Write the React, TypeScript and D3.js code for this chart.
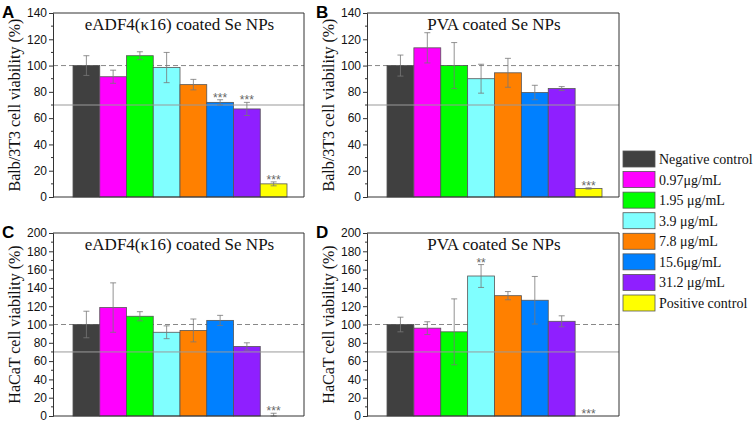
import React, { useEffect, useRef } from "react";
import * as d3 from "d3";

const categories = [
  "Negative control",
  "0.97μg/mL",
  "1.95 μg/mL",
  "3.9 μg/mL",
  "7.8 μg/mL",
  "15.6μg/mL",
  "31.2 μg/mL",
  "Positive control",
];
const colors = ["#404040", "#ff00ff", "#00ff00", "#80ffff", "#ff8000", "#0080ff", "#8f1fff", "#ffff00"];

const valuesA = [100, 91.5, 107.5, 98.5, 85.5, 72, 67, 10];
const errorsA = [7.5, 5, 3, 11.5, 4, 2, 5, 1.5];
const starsA = ["", "", "", "", "", "***", "***", "***"];

const valuesB = [100, 113.5, 100, 90, 94.5, 79.5, 82.5, 6.5];
const errorsB = [8, 11.5, 17.5, 11, 11, 5.5, 1.5, 0.5];
const starsB = ["", "", "", "", "", "", "", "***"];

const valuesC = [100, 118.5, 109, 91.5, 93.5, 104.5, 76, 0];
const errorsC = [14.5, 27, 5, 7, 12.5, 5.5, 4, 3];
const starsC = ["", "", "", "", "", "", "", "***"];

const valuesD = [100, 96, 92, 153, 131.5, 126.5, 103.5, 0];
const errorsD = [8, 7, 36, 12.5, 4.5, 26, 6, 0];
const starsD = ["", "", "", "**", "", "", "", "***"];

const titleKappa = "eADF4(κ16) coated Se NPs";
const titlePVA = "PVA coated Se NPs";

type Panel = {
  letter: string;
  title: string;
  ylabel: string;
  values: number[];
  errors: number[];
  stars: string[];
  yMax: number;
  box: { x0: number; x1: number; y0: number; y1: number; b0: number; b1: number };
};

const panels: Panel[] = [
  { letter: "A", title: titleKappa, ylabel: "Balb/3T3 cell viability (%)", values: valuesA, errors: errorsA, stars: starsA, yMax: 140,
    box: { x0: 53, x1: 304, y0: 13, y1: 197, b0: 73, b1: 287 } },
  { letter: "B", title: titlePVA, ylabel: "Balb/3T3 cell viability (%)", values: valuesB, errors: errorsB, stars: starsB, yMax: 140,
    box: { x0: 367, x1: 619, y0: 13, y1: 197, b0: 387, b1: 602 } },
  { letter: "C", title: titleKappa, ylabel: "HaCaT cell viability (%)", values: valuesC, errors: errorsC, stars: starsC, yMax: 200,
    box: { x0: 53, x1: 304, y0: 233, y1: 416, b0: 73, b1: 287 } },
  { letter: "D", title: titlePVA, ylabel: "HaCaT cell viability (%)", values: valuesD, errors: errorsD, stars: starsD, yMax: 200,
    box: { x0: 367, x1: 619, y0: 233, y1: 416, b0: 387, b1: 602 } },
];

export default function App() {
  const ref = useRef<SVGSVGElement>(null);
  useEffect(() => {
    const svg = d3.select(ref.current);
    svg.selectAll("*").remove();
    const serif = "Liberation Serif, Times New Roman, serif";
    const sans = "Liberation Sans, Arial, sans-serif";

    panels.forEach((p) => {
      const { x0, x1, y0, y1, b0, b1 } = p.box;
      const g = svg.append("g");
      const y = d3.scaleLinear().domain([0, p.yMax]).range([y1, y0]);
      const x = d3.scaleBand<number>().domain(d3.range(8)).range([b0, b1]).paddingInner(0);

      g.append("line").attr("x1", x0).attr("x2", x1).attr("y1", y(100)).attr("y2", y(100))
        .attr("stroke", "#888").attr("stroke-width", 1).attr("stroke-dasharray", "5,3");
      g.selectAll("rect.bar").data(p.values).enter().append("rect")
        .attr("x", (_, i) => x(i)!)
        .attr("y", (d) => y(d))
        .attr("width", x.bandwidth())
        .attr("height", (d) => y1 - y(d))
        .attr("fill", (_, i) => colors[i])
        .attr("stroke", "#555")
        .attr("stroke-width", 0.8);
      g.append("line").attr("x1", x0).attr("x2", x1).attr("y1", y(70)).attr("y2", y(70))
        .attr("stroke", "#999").attr("stroke-width", 1);
      p.values.forEach((v, i) => {
        const e = p.errors[i];
        if (e <= 0) return;
        const cx = x(i)! + x.bandwidth() / 2;
        const lo = Math.max(0, v - e);
        const eg = g.append("g").attr("stroke", "#777").attr("stroke-width", 0.8);
        eg.append("line").attr("x1", cx).attr("x2", cx).attr("y1", y(lo)).attr("y2", y(v + e));
        eg.append("line").attr("x1", cx - 3).attr("x2", cx + 3).attr("y1", y(v + e)).attr("y2", y(v + e));
        eg.append("line").attr("x1", cx - 3).attr("x2", cx + 3).attr("y1", y(lo)).attr("y2", y(lo));
      });
      p.stars.forEach((s, i) => {
        if (!s) return;
        const cx = x(i)! + x.bandwidth() / 2;
        g.append("text").attr("x", cx).attr("y", y(p.values[i] + p.errors[i]) + 2)
          .attr("text-anchor", "middle").attr("font-family", sans).attr("font-size", 12)
          .attr("fill", "#666").text(s);
      });
      g.append("path")
        .attr("d", `M${x0},${y0}H${x1}V${y1}`)
        .attr("fill", "none").attr("stroke", "#333").attr("stroke-width", 1);
      g.append("line").attr("x1", x0).attr("x2", x1).attr("y1", y1).attr("y2", y1)
        .attr("stroke", "#333").attr("stroke-width", 1);
      const ax = g.append("g").attr("transform", `translate(${x0},0)`)
        .call(d3.axisLeft(y).ticks(p.yMax / 20).tickSize(4).tickPadding(2));
      ax.select(".domain").attr("stroke", "#333");
      ax.selectAll(".tick line").attr("stroke", "#333");
      ax.selectAll(".tick text").attr("font-family", sans).attr("font-size", 12).attr("fill", "#111");
      const minor = d3.range(10, p.yMax, 20);
      g.selectAll("line.minor").data(minor).enter().append("line")
        .attr("x1", x0 - 2).attr("x2", x0).attr("y1", (d) => y(d)).attr("y2", (d) => y(d))
        .attr("stroke", "#333");
      g.append("text")
        .attr("transform", `translate(${x0 - 33},${(y0 + y1) / 2}) rotate(-90)`)
        .attr("text-anchor", "middle").attr("font-family", serif).attr("font-size", 16)
        .attr("fill", "#111").text(p.ylabel);
      g.append("text").attr("x", (x0 + x1) / 2 + 1).attr("y", y0 + 17)
        .attr("text-anchor", "middle").attr("font-family", serif).attr("font-size", 17)
        .attr("fill", "#111").text(p.title);
      g.append("text").attr("x", x0 - 51).attr("y", y0 + 5)
        .attr("font-family", sans).attr("font-weight", "bold").attr("font-size", 17)
        .attr("fill", "#000").text(p.letter);
    });

    const lg = svg.append("g");
    const ly = d3.scalePoint<number>().domain(d3.range(8)).range([159, 303]);
    categories.forEach((c, i) => {
      lg.append("rect").attr("x", 623).attr("y", ly(i)! - 8).attr("width", 32).attr("height", 16)
        .attr("fill", colors[i]).attr("stroke", "#555").attr("stroke-width", 0.8);
      lg.append("text").attr("x", 659).attr("y", ly(i)! + 5)
        .attr("font-family", serif).attr("font-size", 14).attr("fill", "#111").text(c);
    });
  }, []);
  return (
    <svg ref={ref} width={753} height={422} style={{ position: "absolute", left: 0, top: 0, background: "#fff" }} />
  );
}
